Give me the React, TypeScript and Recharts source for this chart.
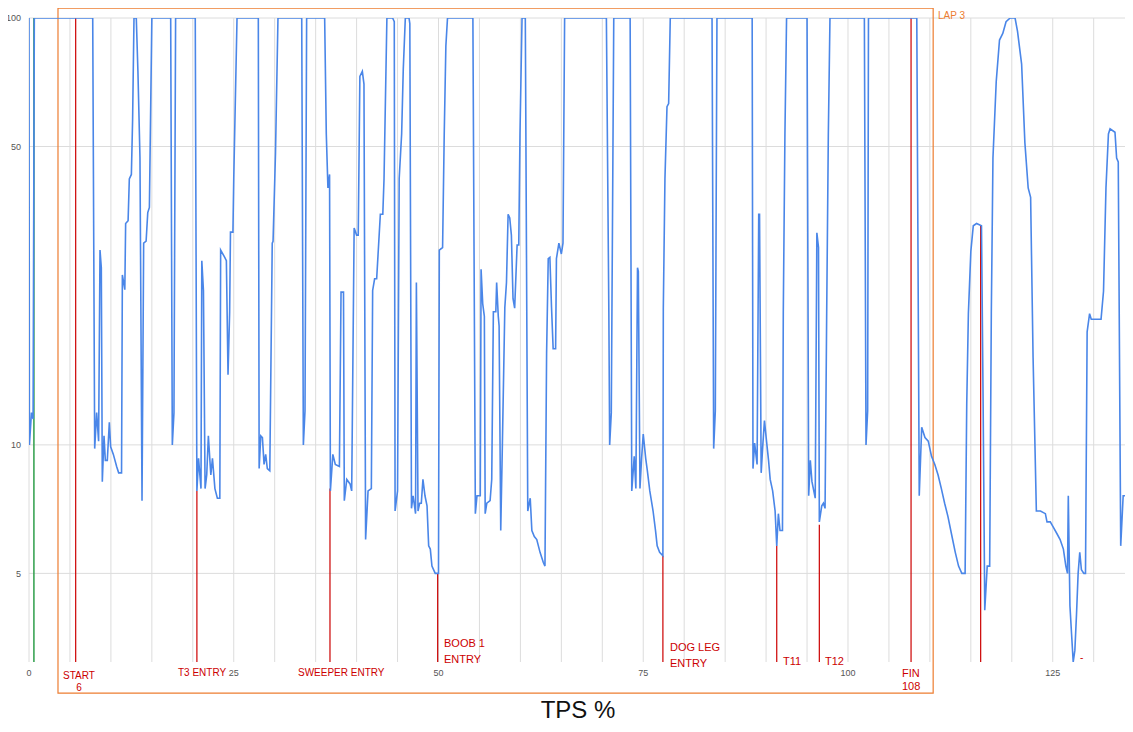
import React from "react";
import { LineChart, Line, XAxis, YAxis, CartesianGrid, ReferenceLine, ReferenceArea } from "recharts";

const xs = [0,0.05,0.3,0.5,0.65,7.78,8.02,8.26,8.5,8.67,8.83,8.95,9.16,9.32,9.56,9.81,9.97,10.3,10.7,10.95,11.3,11.4,11.7,11.8,12.1,12.25,12.5,12.65,12.82,13.1,13.3,13.55,13.8,14.0,14.3,14.5,14.7,15.0,17.3,17.5,17.7,17.9,20.3,20.5,20.7,21.0,21.1,21.3,21.5,21.7,21.9,22.2,22.4,22.7,23.0,23.3,23.4,23.9,24.1,24.3,24.5,24.6,24.9,25.0,25.4,28.0,28.1,28.3,28.5,28.7,28.9,29.1,29.4,29.7,29.8,30.1,30.4,33.3,33.5,33.7,33.9,36.1,36.3,36.5,36.7,36.8,37.1,37.4,37.9,38.1,38.4,38.5,38.8,39.2,39.4,39.7,40.0,40.2,40.4,40.7,40.9,41.1,41.4,41.8,41.96,42.2,42.45,42.7,42.9,43.2,43.35,43.7,44.4,44.6,44.7,45.0,45.2,45.5,45.7,45.95,46.4,46.5,46.7,46.9,47.2,47.3,47.5,47.7,47.9,48.1,48.35,48.6,48.8,49.0,49.2,49.6,50.0,50.1,50.5,50.7,50.9,51.1,54.2,54.5,54.7,55.1,55.2,55.4,55.6,55.7,55.9,56.3,56.5,56.7,57.0,57.1,57.3,57.4,57.6,57.8,58.1,58.3,58.5,58.7,58.9,59.1,59.3,59.6,59.8,59.95,60.2,60.6,60.9,61.2,61.4,61.7,62.0,62.4,62.8,63.0,63.2,63.4,63.6,63.8,64.0,64.3,64.4,64.7,65.0,65.2,65.4,70.5,70.8,70.9,71.1,71.4,73.4,73.6,73.9,74.1,74.3,74.4,74.6,74.8,75.0,75.3,75.5,75.8,76.2,76.5,76.7,77.0,77.4,77.45,77.65,77.9,78.1,78.3,83.4,83.6,83.8,84.0,88.3,88.4,88.6,88.9,89.1,89.2,89.4,89.6,89.8,90.1,90.3,90.5,90.8,91.1,91.3,91.5,91.7,92.0,92.1,92.3,92.5,95.0,95.2,95.4,95.6,96.0,96.2,96.4,96.5,96.8,97.0,97.2,97.4,97.6,97.8,102.0,102.2,102.4,102.5,108.4,108.5,108.7,109.0,109.4,109.8,110.2,110.6,111.0,111.4,111.8,112.2,112.7,113.1,113.5,113.9,114.3,114.5,114.7,115.0,115.3,115.7,116.3,116.5,116.7,117.0,117.3,117.5,117.7,118.1,118.5,118.9,119.3,119.8,120.4,120.7,121.2,121.6,122.0,122.3,122.6,123.0,123.5,124.1,124.3,124.7,125.1,125.5,125.9,126.3,126.6,126.8,126.9,127.1,127.3,127.5,127.7,127.9,128.1,128.3,128.5,128.8,129.0,129.2,129.5,129.7,130.3,130.9,131.2,131.5,131.8,132.0,132.6,132.8,133.0,133.3,133.6,134.0,134.4];
const tps = [100,10,11.9,11.5,100,100,9.8,11.9,10.2,28.6,26,8.2,10.5,9.2,9.2,11.3,9.9,9.5,8.9,8.6,8.6,25,23.1,33,33.5,42,43,57.7,100,100,75,47,7.4,29.7,30,35,36,100,100,10,11.9,100,100,7.8,9.3,7.9,27,23,7.9,8.5,10.5,8.5,9.3,7.9,7.5,7.5,28.6,27.5,27,14.6,20.5,31.5,31.5,42,100,100,8.8,10.5,10.4,9.0,9.5,8.8,8.7,29.7,30,48.5,100,100,10,12,100,100,53.5,40,43,7.8,9.5,9.0,8.9,22.8,22.8,7.4,8.3,8.1,7.8,32.2,31,31,73,75,70,6.0,7.8,7.9,23,24.5,24.5,29.7,34.7,34.7,42,100,100,98,7.0,7.8,42,53.5,76,100,100,97,7.1,7.6,6.9,24,7.0,7.3,7.3,8.3,7.6,7.2,5.8,5.7,5.2,5.0,5.0,28.6,29,53.5,86,100,100,6.9,7.6,7.6,25.8,21.4,20,6.9,7.3,7.4,8.3,20.5,20.5,24,20,19,6.3,10,21,24,34.7,34,31,22,20.9,29.4,29.4,53.5,100,100,7.0,7.5,6.3,6.1,6.0,5.6,5.3,5.2,16.4,27.3,27.5,21,16.8,16.8,27.3,29.7,28,29.7,100,100,20.5,10,11.9,100,100,7.8,9.4,7.9,26,25.5,7.9,9.3,10.6,9.3,8.7,7.8,7.0,6.3,5.8,5.6,5.5,20.9,42,62,63,100,100,9.8,12,100,100,8.8,10.1,9.0,34.7,34.7,8.6,10,11.4,10,9.2,8.3,7.8,7.0,5.8,6.9,6.3,6.3,20.5,53.5,100,100,7.6,9.2,8.2,7.5,31.4,29,6.6,7.2,7.3,7.1,20.5,53.5,100,100,10,12,100,100,42,7.6,11,10.4,10.2,9.4,9.0,8.5,7.9,7.3,6.8,6.1,5.6,5.2,5.0,5.0,12.5,20.3,28.4,32.6,33,32.6,12.5,4.1,5.2,5.2,20.3,47,71,88.8,92,98,100,100,93,78,51,40,38,16,7.0,7.0,6.9,6.6,6.6,6.4,6.2,6.0,5.7,5.2,5.0,7.6,4.2,3.6,3.1,3.3,4.0,5.0,5.6,5.1,5.0,5.0,18.4,20.3,19.7,19.7,19.7,22.9,40,53.5,55,54,47,46,5.8,7.6,7.6,7.4];

const xTicks = [0,5,10,15,20,25,30,35,40,45,50,55,60,65,70,75,80,85,90,95,100,105,110,115,120,125,130];
const yTicks = [5, 10, 50, 100];

const markerX = [5.7, 20.5, 36.75, 49.9, 77.4, 91.3, 96.5, 107.7, 116.2];
const markerTop = [100, 7.8, 7.9, 5.0, 5.5, 5.8, 6.5, 100, 32.6];
const greenX = 0.6;
const lapStart = 3.54;
const lapEnd = 110.4;

const data = xs.map((x, i) => ({ x, tps: tps[i] }));

const red = "#cc0000";
const lbl = (left: number, top: number, lines: string[], size = 10, lh = 12, color = red, align: "left" | "center" = "center") => (
  <div style={{ position: "absolute", left, top, fontSize: size, lineHeight: lh + "px", color, fontFamily: "Arial, 'Liberation Sans', sans-serif", textAlign: align, whiteSpace: "nowrap" }}>
    {lines.map((l, i) => <div key={i}>{l}</div>)}
  </div>
);

export default function App() {
  return (
    <div style={{ position: "relative", width: 1125, height: 724, fontFamily: "Arial, 'Liberation Sans', sans-serif" }}>
      <LineChart width={1125} height={720} data={data} margin={{ top: 10, right: 0, left: 3, bottom: 46 }}>
        <CartesianGrid stroke="#dcdcdc" horizontalValues={yTicks} />
        <XAxis dataKey="x" type="number" domain={[0, 134.8]} ticks={xTicks} allowDataOverflow
          tickFormatter={(v: number) => (v % 25 === 0 ? String(v) : "")}
          tickLine={false} axisLine={false} tick={{ fontSize: 9, fill: "#555" }} height={20} />
        <YAxis type="number" scale="log" domain={[3.1, 100]} ticks={yTicks} allowDataOverflow
          tickLine={false} axisLine={false} tick={{ fontSize: 9, fill: "#555" }} width={18} />
        <ReferenceArea x1={lapStart} x2={lapEnd} y1={2.62} y2={105.5} ifOverflow="visible" fill="none" stroke="#ed7d31" strokeWidth={1.2} />
        <ReferenceLine segment={[{ x: greenX, y: 3.1 }, { x: greenX, y: 100 }]} stroke="#2e9e4a" strokeWidth={1.5} />
        {markerX.map((mx, i) => (
          <ReferenceLine key={i} segment={[{ x: mx, y: 3.1 }, { x: mx, y: markerTop[i] }]} stroke={red} strokeWidth={1.2} />
        ))}
        <Line type="linear" dataKey="tps" stroke="#4a86e8" strokeWidth={1.6} dot={false} isAnimationActive={false} />
      </LineChart>
      {lbl(55, 662, ["START", "6"], 10, 12)}
      {lbl(170, 659, ["T3 ENTRY"], 10)}
      {lbl(290, 659, ["SWEEPER ENTRY"], 10)}
      {lbl(436, 627, ["BOOB 1", "ENTRY"], 11, 16, red, "left")}
      {lbl(662, 631, ["DOG LEG", "ENTRY"], 11, 16, red, "left")}
      {lbl(775, 645, ["T11"], 11, 16)}
      {lbl(817, 645, ["T12"], 11, 16)}
      {lbl(894, 659, ["FIN", "108"], 11, 13, red, "left")}
      {lbl(930, 2, ["LAP 3"], 10, 12, "#ed7d31")}
      {lbl(1072, 644, ["-"], 10, 12)}
      <div style={{ position: "absolute", left: 0, width: 1140, top: 688, textAlign: "center", fontSize: 24, color: "#111" }}>TPS %</div>
    </div>
  );
}
